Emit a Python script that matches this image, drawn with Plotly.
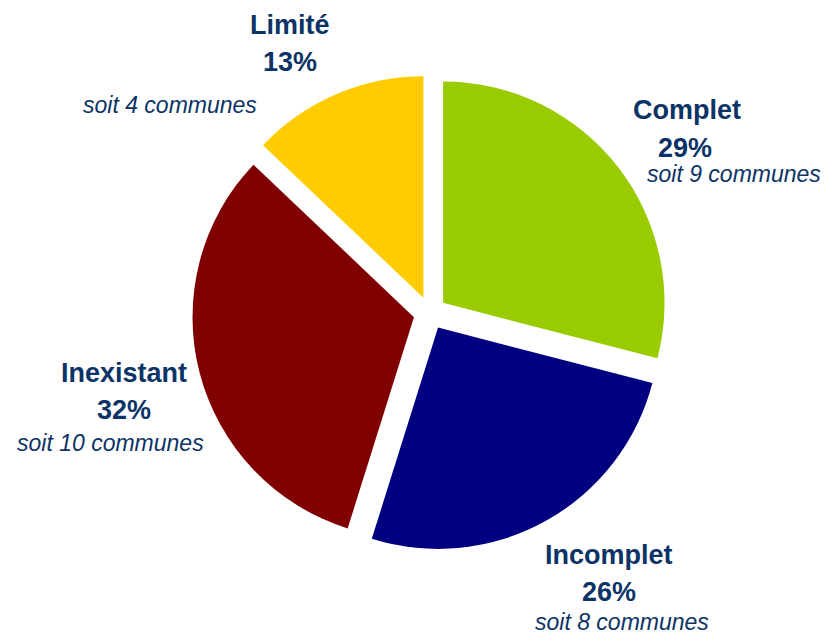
import plotly.graph_objects as go

# Niveau d'équipement des communes
categories = ["Complet", "Incomplet", "Inexistant", "Limité"]
communes = [9, 8, 10, 4]
colors = ["#99CC00", "#000080", "#800000", "#FFCC00"]

# Positions des étiquettes (pixels) : nom, pourcentage, nombre de communes
label_pos = {
    "Complet":    [(687, 110), (685, 148), (734, 174)],
    "Incomplet":  [(609, 555), (609, 592), (622, 622)],
    "Inexistant": [(124, 373), (124, 410), (110, 443)],
    "Limité":     [(290, 25), (290, 62), (170, 105)],
}

W, H = 828, 635
total = sum(communes)

fig = go.Figure(go.Pie(
    labels=categories,
    values=communes,
    marker=dict(colors=colors, line=dict(width=0)),
    sort=False,
    direction="clockwise",
    rotation=0,
    pull=[0.075] * len(categories),
    textinfo="none",
    hoverinfo="label+percent+value",
    showlegend=False,
    domain=dict(x=[192 / W, 668 / W], y=[1 - 551 / H, 1 - 75 / H]),
))

text_color = "#0B3366"
annotations = []
for cat, n in zip(categories, communes):
    pct = round(n / total * 100)
    (x1, y1), (x2, y2), (x3, y3) = label_pos[cat]
    lines = [
        (x1, y1, f"<b>{cat}</b>", 27),
        (x2, y2, f"<b>{pct}%</b>", 27),
        (x3, y3, f"<i>soit {n} communes</i>", 23),
    ]
    for x, y, txt, size in lines:
        annotations.append(dict(
            x=x / W, y=1 - y / H, xref="paper", yref="paper",
            text=txt, showarrow=False, xanchor="center", yanchor="middle",
            font=dict(family="Liberation Sans, Arial, sans-serif", size=size, color=text_color),
        ))

fig.update_layout(
    width=W, height=H,
    margin=dict(l=0, r=0, t=0, b=0),
    paper_bgcolor="white",
    plot_bgcolor="white",
    annotations=annotations,
)

fig.write_html("out.html")
